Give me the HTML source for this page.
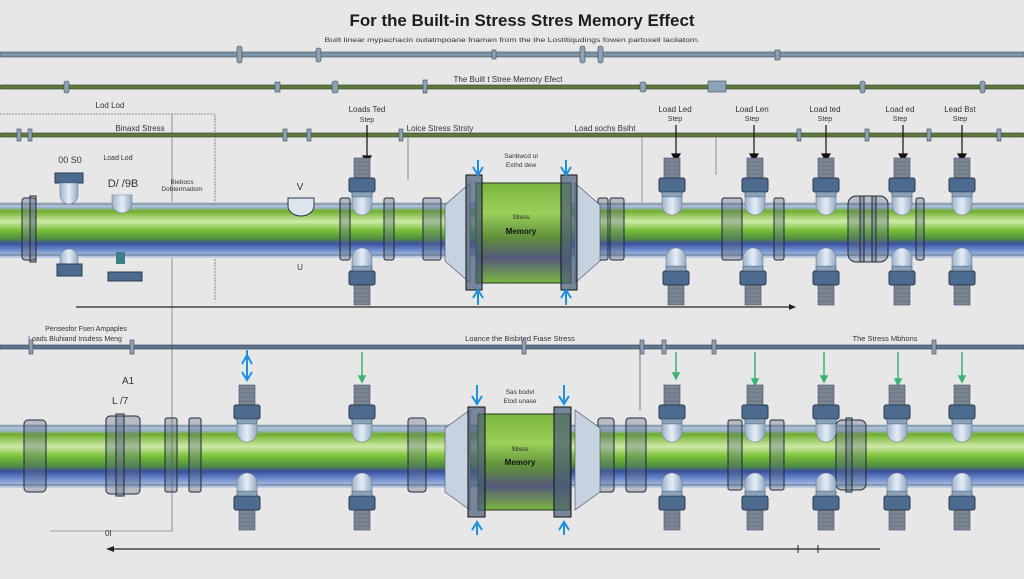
<!DOCTYPE html>
<html><head><meta charset="utf-8"><style>
html,body{margin:0;padding:0;background:#e6e7e6;}
svg{display:block;font-family:"Liberation Sans",sans-serif;}
</style></head><body>
<svg width="1024" height="579" viewBox="0 0 1024 579" xmlns="http://www.w3.org/2000/svg">
<defs>
<linearGradient id="pg" x1="0" y1="0" x2="0" y2="1">
<stop offset="0" stop-color="#c9d3df"/>
<stop offset="0.1" stop-color="#9fb6cf"/>
<stop offset="0.16" stop-color="#6fae2c"/>
<stop offset="0.35" stop-color="#cfe9a8"/>
<stop offset="0.5" stop-color="#7cc23a"/>
<stop offset="0.66" stop-color="#4f8d3f"/>
<stop offset="0.74" stop-color="#3c4fa0"/>
<stop offset="0.86" stop-color="#6f8fcf"/>
<stop offset="1" stop-color="#c7d2e3"/>
</linearGradient>
<linearGradient id="mg" x1="0" y1="0" x2="0" y2="1">
<stop offset="0" stop-color="#7ab540"/>
<stop offset="0.3" stop-color="#9bd05a"/>
<stop offset="0.55" stop-color="#5f8f3c"/>
<stop offset="0.75" stop-color="#55597a"/>
<stop offset="1" stop-color="#7ab540"/>
</linearGradient>
<linearGradient id="bulb" x1="0" y1="0" x2="1" y2="0">
<stop offset="0" stop-color="#9fb4cc"/><stop offset="0.5" stop-color="#e6eef7"/><stop offset="1" stop-color="#93a9c3"/>
</linearGradient>
<g id="vt">
<rect x="-8" y="0" width="16" height="20" fill="#7a8593" stroke="#4a5260" stroke-width="0.6"/>
<path d="M-8 4h16M-8 8h16M-8 12h16M-8 16h16" stroke="#5b6370" stroke-width="0.6"/>
<rect x="-13" y="20" width="26" height="14" rx="2" fill="#4d6b8f" stroke="#2b3a4d"/>
<rect x="-10" y="34" width="20" height="5" fill="#8ba2bb" stroke="#3d4b5c" stroke-width="0.6"/>
<path d="M-10 39h20v8a10 10 0 0 1 -20 0z" fill="url(#bulb)" stroke="#6c7f96" stroke-width="0.6"/>
</g>
<g id="fl">
<rect x="0" y="0" width="14" height="1" fill="none"/>
</g>
</defs>

<!-- title -->
<text x="522" y="26" text-anchor="middle" font-size="17" font-weight="bold" fill="#1d1d1f" textLength="345" lengthAdjust="spacingAndGlyphs">For the Built-in Stress Stres Memory Effect</text>
<text x="512" y="42" text-anchor="middle" font-size="6.5" fill="#333" textLength="375" lengthAdjust="spacingAndGlyphs">Built linear mypachacin outatmpoane fnamen from the the Lostitiqudings fowen partoxell lacilatom.</text>

<!-- thin lines -->
<rect x="0" y="52" width="1024" height="5" fill="#7d93a6" stroke="#3f4d5b" stroke-width="0.6"/>
<g fill="#8da2b5" stroke="#3f4d5b" stroke-width="0.6">
<rect x="237" y="46" width="5" height="17" rx="2"/><rect x="316" y="48" width="5" height="14" rx="2"/><rect x="492" y="50" width="4" height="9"/><rect x="580" y="46" width="5" height="17" rx="2"/><rect x="598" y="46" width="5" height="17" rx="2"/><rect x="775" y="50" width="5" height="10"/>
</g>
<text x="508" y="82" text-anchor="middle" font-size="8" fill="#333">The Built t Stree Memory Efect</text>
<rect x="0" y="85" width="1024" height="4" fill="#5d7a3c" stroke="#2f3f25" stroke-width="0.6"/>
<g fill="#8da2b5" stroke="#3f4d5b" stroke-width="0.6">
<rect x="64" y="81" width="5" height="12" rx="2"/><rect x="275" y="82" width="5" height="10"/><rect x="332" y="81" width="6" height="12" rx="2"/><rect x="423" y="80" width="4" height="13"/><rect x="640" y="82" width="6" height="10" rx="2"/><rect x="708" y="81" width="18" height="11"/><rect x="860" y="81" width="5" height="12" rx="2"/><rect x="980" y="81" width="5" height="12" rx="2"/>
</g>

<text x="110" y="108" text-anchor="middle" font-size="8" fill="#333">Lod Lod</text>
<path d="M0 114H215V300" stroke="#444" stroke-width="0.6" fill="none" stroke-dasharray="2 1"/>
<path d="M172 114V330" stroke="#555" stroke-width="0.6"/>
<text x="140" y="131" text-anchor="middle" font-size="8" fill="#333">Binaxd Stress</text>
<text x="367" y="112" text-anchor="middle" font-size="8" fill="#333">Loads Ted</text>
<text x="367" y="122" text-anchor="middle" font-size="7" fill="#333">Step</text>
<text x="440" y="131" text-anchor="middle" font-size="8" fill="#333">Loice Stress Strsty</text>
<text x="605" y="131" text-anchor="middle" font-size="8" fill="#333">Load sochs Bsiht</text>
<g font-size="8" fill="#333" text-anchor="middle">
<text x="675" y="112">Load Led</text><text x="675" y="121" font-size="7">Step</text>
<text x="752" y="112">Load Len</text><text x="752" y="121" font-size="7">Step</text>
<text x="825" y="112">Load ted</text><text x="825" y="121" font-size="7">Step</text>
<text x="900" y="112">Load ed</text><text x="900" y="121" font-size="7">Step</text>
<text x="960" y="112">Lead Bst</text><text x="960" y="121" font-size="7">Step</text>
</g>
<rect x="0" y="133" width="1024" height="4" fill="#5d7a3c" stroke="#2f3f25" stroke-width="0.6"/>
<g fill="#8da2b5" stroke="#3f4d5b" stroke-width="0.6">
<rect x="17" y="129" width="4" height="12"/><rect x="28" y="129" width="4" height="12"/><rect x="283" y="129" width="4" height="12"/><rect x="307" y="129" width="4" height="12"/><rect x="399" y="129" width="4" height="12"/><rect x="797" y="129" width="4" height="12"/><rect x="865" y="129" width="4" height="12"/><rect x="927" y="129" width="4" height="12"/><rect x="997" y="129" width="4" height="12"/>
</g>
<path d="M408 133V180M642 133V205M716 133V175" stroke="#555" stroke-width="0.6"/>

<!-- arrows top -->
<g stroke="#111" stroke-width="1.2" fill="#111">
<path d="M367 125V160"/><path d="M363 156l4 7 4-7z"/>
<path d="M676 125V158"/><path d="M672 154l4 7 4-7z"/>
<path d="M754 125V158"/><path d="M750 154l4 7 4-7z"/>
<path d="M826 125V158"/><path d="M822 154l4 7 4-7z"/>
<path d="M903 125V158"/><path d="M899 154l4 7 4-7z"/>
<path d="M962 125V158"/><path d="M958 154l4 7 4-7z"/>
</g>

<!-- left labels pipe1 -->
<text x="70" y="163" text-anchor="middle" font-size="9" fill="#333">00 S0</text>
<text x="118" y="160" text-anchor="middle" font-size="7" fill="#333">Load Lod</text>
<text x="123" y="187" text-anchor="middle" font-size="11" fill="#333">D/ /9B</text>
<text x="182" y="184" text-anchor="middle" font-size="6.5" fill="#333">Biebocs</text>
<text x="182" y="191" text-anchor="middle" font-size="6.5" fill="#333">Dobtermadom</text>
<text x="300" y="190" text-anchor="middle" font-size="10" fill="#333">V</text>
<text x="300" y="270" text-anchor="middle" font-size="8" fill="#333">U</text>

<!-- PIPE 1 -->
<rect x="0" y="202" width="1024" height="56" fill="url(#pg)"/>
<path d="M0 204H1024M0 255H1024" stroke="#4a5a6c" stroke-width="0.8"/>
<rect x="55" y="173" width="28" height="10" fill="#4d6b8f" stroke="#2b3a4d"/>
<path d="M60 183h18v12a9 9 0 0 1 -18 0z" fill="url(#bulb)" stroke="#6c7f96" stroke-width="0.6"/>
<path d="M60 268h18v-10a9 9 0 0 0 -18 0z" fill="url(#bulb)" stroke="#6c7f96" stroke-width="0.6"/>
<rect x="57" y="264" width="25" height="12" fill="#4d6b8f" stroke="#2b3a4d"/>
<path d="M112 195h20v8a10 10 0 0 1 -20 0z" fill="url(#bulb)" stroke="#6c7f96" stroke-width="0.6"/>
<rect x="108" y="272" width="34" height="9" fill="#4d6b8f" stroke="#2b3a4d"/>
<rect x="116" y="252" width="9" height="12" fill="#3f7f86"/>
<path d="M288 198h26v8a13 10 0 0 1 -26 0z" fill="#dde4ed" stroke="#2b3a4d"/>
<g fill="#5b6b84" fill-opacity="0.35" stroke="#1f2a36" stroke-width="1">
<rect x="22" y="198" width="14" height="62" rx="3"/><rect x="30" y="196" width="6" height="66"/>
<rect x="340" y="198" width="10" height="62" rx="2"/><rect x="384" y="198" width="10" height="62" rx="2"/>
<rect x="423" y="198" width="18" height="62" rx="2"/>
<rect x="598" y="198" width="10" height="62" rx="2"/><rect x="610" y="198" width="14" height="62" rx="2"/>
<rect x="722" y="198" width="20" height="62" rx="2"/><rect x="774" y="198" width="10" height="62" rx="2"/>
<rect x="848" y="196" width="40" height="66" rx="8"/><rect x="860" y="196" width="4" height="66"/><rect x="872" y="196" width="4" height="66"/>
<rect x="916" y="198" width="8" height="62" rx="2"/>
</g>
<!-- memory box 1 -->
<path d="M445 205l25-22v100l-25-22z" fill="#c6d2df" stroke="#3f4d5b" stroke-width="0.6"/>
<path d="M600 205l-25-22v100l25-22z" fill="#c6d2df" stroke="#3f4d5b" stroke-width="0.6"/>
<rect x="476" y="183" width="95" height="100" fill="url(#mg)" stroke="#253020"/>
<rect x="466" y="175" width="16" height="115" fill="#4a5d78" fill-opacity="0.7" stroke="#111"/>
<rect x="561" y="175" width="16" height="115" fill="#4a5d78" fill-opacity="0.7" stroke="#111"/>
<text x="521" y="219" text-anchor="middle" font-size="6" fill="#222">Stress</text>
<text x="521" y="234" text-anchor="middle" font-size="8" font-weight="bold" fill="#111">Memory</text>
<text x="521" y="158" text-anchor="middle" font-size="6.5" fill="#333">Sanbwcd ul</text>
<text x="521" y="167" text-anchor="middle" font-size="6.5" fill="#333">Exthd dew</text>
<g stroke="#1e90e0" stroke-width="2" fill="none">
<path d="M478 160v16M473 167l5 8 5-8"/><path d="M566 160v16M561 167l5 8 5-8"/>
<path d="M478 305v-16M473 298l5-8 5 8"/><path d="M566 305v-16M561 298l5-8 5 8"/>
</g>
<!-- valves pipe1 -->
<use href="#vt" x="362" y="158"/><use href="#vt" x="672" y="158"/><use href="#vt" x="755" y="158"/><use href="#vt" x="826" y="158"/><use href="#vt" x="902" y="158"/><use href="#vt" x="962" y="158"/>
<g transform="translate(0,460) scale(1,-1)">
<use href="#vt" x="362" y="155"/><use href="#vt" x="676" y="155"/><use href="#vt" x="753" y="155"/><use href="#vt" x="826" y="155"/><use href="#vt" x="902" y="155"/><use href="#vt" x="962" y="155"/>
</g>
<path d="M76 307H795" stroke="#222" stroke-width="1.2"/><path d="M789 304l7 3-7 3z" fill="#222"/>

<!-- middle -->
<text x="86" y="331" text-anchor="middle" font-size="7" fill="#333">Pensesfor Fsen Ampaples</text>
<text x="75" y="341" text-anchor="middle" font-size="7" fill="#333">Loads Bluhiand Insdess Meng</text>
<text x="520" y="341" text-anchor="middle" font-size="7.5" fill="#333">Loance the Bisbited Fiase Stress</text>
<text x="885" y="341" text-anchor="middle" font-size="7.5" fill="#333">The Stress Mbhons</text>
<rect x="0" y="345" width="1024" height="4" fill="#5f7690" stroke="#2f3d4f" stroke-width="0.6"/>
<g fill="#8da2b5" stroke="#3f4d5b" stroke-width="0.6">
<rect x="29" y="340" width="4" height="14"/><rect x="130" y="340" width="4" height="14"/><rect x="522" y="340" width="4" height="14"/><rect x="640" y="340" width="4" height="14"/><rect x="662" y="340" width="4" height="14"/><rect x="712" y="340" width="4" height="14"/><rect x="932" y="340" width="4" height="14"/>
</g>
<path d="M640 349V410" stroke="#333" stroke-width="0.6"/>
<text x="122" y="384" font-size="10" fill="#333">A1</text>
<text x="112" y="404" font-size="10" fill="#333">L /7</text>
<text x="105" y="536" font-size="8" fill="#333">0I</text>

<g stroke="#1e90e0" stroke-width="2" fill="none"><path d="M247 350v30M242 364l5-9 5 9M242 372l5 8 5-8"/></g>
<g stroke="#3cb371" stroke-width="1.5" fill="#3cb371">
<path d="M362 352V380"/><path d="M359 376l3 6 3-6z"/>
<path d="M676 352V377"/><path d="M673 373l3 6 3-6z"/>
<path d="M755 352V383"/><path d="M752 379l3 6 3-6z"/>
<path d="M824 352V380"/><path d="M821 376l3 6 3-6z"/>
<path d="M898 352V383"/><path d="M895 379l3 6 3-6z"/>
<path d="M962 352V380"/><path d="M959 376l3 6 3-6z"/>
</g>

<!-- PIPE 2 -->
<rect x="0" y="424" width="1024" height="64" fill="url(#pg)"/>
<path d="M0 426H1024M0 485H1024" stroke="#4a5a6c" stroke-width="0.8"/>
<g fill="#5b6b84" fill-opacity="0.35" stroke="#1f2a36" stroke-width="1">
<rect x="24" y="420" width="22" height="72" rx="4"/>
<rect x="106" y="416" width="34" height="78" rx="4"/><rect x="116" y="414" width="8" height="82"/>
<rect x="165" y="418" width="12" height="74" rx="2"/><rect x="189" y="418" width="12" height="74" rx="2"/>
<rect x="408" y="418" width="18" height="74" rx="3"/>
<rect x="598" y="418" width="16" height="74" rx="3"/><rect x="626" y="418" width="20" height="74" rx="3"/>
<rect x="728" y="420" width="14" height="70" rx="2"/><rect x="770" y="420" width="14" height="70" rx="2"/>
<rect x="836" y="420" width="30" height="70" rx="6"/><rect x="846" y="418" width="6" height="74"/>
</g>
<path d="M445 428l25-18v100l-25-18z" fill="#c6d2df" stroke="#3f4d5b" stroke-width="0.6"/>
<path d="M600 428l-25-18v100l25-18z" fill="#c6d2df" stroke="#3f4d5b" stroke-width="0.6"/>
<rect x="478" y="414" width="92" height="96" fill="url(#mg)" stroke="#253020"/>
<rect x="468" y="407" width="17" height="110" fill="#4a5d78" fill-opacity="0.7" stroke="#111"/>
<rect x="554" y="407" width="17" height="110" fill="#4a5d78" fill-opacity="0.7" stroke="#111"/>
<text x="520" y="451" text-anchor="middle" font-size="6" fill="#222">Stress</text>
<text x="520" y="465" text-anchor="middle" font-size="8" font-weight="bold" fill="#111">Memory</text>
<text x="520" y="394" text-anchor="middle" font-size="6.5" fill="#333">Sas bodvl</text>
<text x="520" y="403" text-anchor="middle" font-size="6.5" fill="#333">Etod unase</text>
<g stroke="#1e90e0" stroke-width="2" fill="none">
<path d="M477 385v18M472 396l5 8 5-8"/><path d="M564 385v18M559 396l5 8 5-8"/>
<path d="M477 535v-14M472 530l5-8 5 8"/><path d="M564 535v-14M559 530l5-8 5 8"/>
</g>
<use href="#vt" x="247" y="385"/><use href="#vt" x="362" y="385"/><use href="#vt" x="672" y="385"/><use href="#vt" x="755" y="385"/><use href="#vt" x="826" y="385"/><use href="#vt" x="897" y="385"/><use href="#vt" x="962" y="385"/>
<g transform="translate(0,895) scale(1,-1)">
<use href="#vt" x="247" y="365"/><use href="#vt" x="362" y="365"/><use href="#vt" x="672" y="365"/><use href="#vt" x="755" y="365"/><use href="#vt" x="826" y="365"/><use href="#vt" x="897" y="365"/><use href="#vt" x="962" y="365"/>
</g>
<path d="M50 531H172V330" stroke="#555" stroke-width="0.6" fill="none"/>
<path d="M108 549H880" stroke="#222" stroke-width="1.2"/><path d="M114 546l-8 3 8 3z" fill="#222"/>
<path d="M798 545v8M818 545v8" stroke="#222"/>
</svg>
</body></html>
